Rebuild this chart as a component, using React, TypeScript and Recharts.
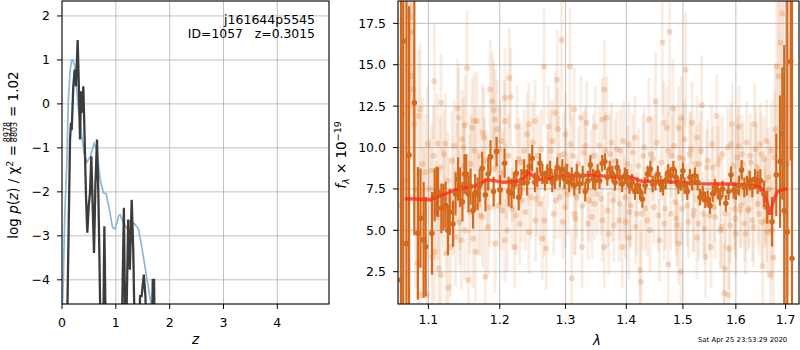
import React from "react";
import {
  LineChart,
  ComposedChart,
  Line,
  Scatter,
  ErrorBar,
  XAxis,
  YAxis,
  CartesianGrid,
} from "recharts";

// p(z) panel
const smoothZ = [0, 0.01, 0.025, 0.05, 0.087, 0.118, 0.15, 0.18, 0.2, 0.24, 0.27, 0.3, 0.35, 0.41, 0.46, 0.53, 0.595, 0.645, 0.71, 0.77, 0.82, 0.88, 0.94, 0.99, 1.05, 1.08, 1.14, 1.2, 1.26, 1.34, 1.42, 1.48, 1.54, 1.6, 1.65, 1.75];
const smoothLogP = [-5, -4.52, -3.98, -2.6, -1.42, 0.1, 0.75, 1.0, 1.0, 0.85, 0.4, -0.05, -0.58, -1.11, -1.33, -1.19, -0.9, -1.04, -1.72, -2.02, -2.04, -2.4, -2.82, -2.84, -2.55, -2.52, -2.7, -2.82, -2.67, -2.72, -2.84, -3.24, -3.69, -4.15, -4.52, -5.3];

const chiZ = [0, 0.09, 0.149, 0.167, 0.18, 0.21, 0.236, 0.26, 0.291, 0.31, 0.335, 0.353, 0.372, 0.396, 0.415, 0.446, 0.47, 0.496, 0.52, 0.545, 0.57, 0.595, 0.62, 0.65, 0.675, 0.694, 0.72, 0.76, 0.787, 0.82, 1.1, 1.15, 1.18, 1.23, 1.26, 1.295, 1.325, 1.36, 1.43, 1.45, 1.48, 1.52, 1.55, 1.58, 1.66, 1.686, 1.71, 1.73, 2.0, 4.96];
const chiLogP = [-9, -5.5, -0.81, -0.43, -0.6, 0.4, 0.78, 0.4, 1.45, 0.55, -0.81, 0.29, -0.2, 0.4, -0.51, -2.1, -2.93, -2.33, -2.02, -1.19, -2.33, -3.39, -1.87, -0.81, -2.02, -3.39, -5.5, -6, -2.78, -6, -6, -2.36, -6, -2.63, -3.77, -2.18, -3.39, -6, -6, -4.37, -4.37, -3.88, -4.37, -6, -6, -4.0, -4.0, -6, -9, -9];

const zTicks = [0, 1, 2, 3, 4];
const logPTicks = [-4, -3, -2, -1, 0, 1, 2];

// spectrum panel: binned points
const binWave = [1.064, 1.0668, 1.071, 1.0744, 1.0813, 1.086, 1.0894, 1.0936, 1.0964, 1.1048, 1.1084, 1.111, 1.113, 1.1175, 1.1203, 1.1233, 1.1265, 1.129, 1.1335, 1.137, 1.1405, 1.1433, 1.1466, 1.1494, 1.152, 1.155, 1.158, 1.1615, 1.1645, 1.168, 1.171, 1.1746, 1.1792, 1.1832, 1.1864, 1.191, 1.1953, 1.2005, 1.207, 1.2131, 1.2172, 1.2207, 1.2243, 1.228, 1.232, 1.2361, 1.2407, 1.2442, 1.2483, 1.2524, 1.256, 1.2602, 1.264, 1.268, 1.2715, 1.2757, 1.2793, 1.2835, 1.287, 1.2912, 1.295, 1.2985, 1.302, 1.306, 1.31, 1.314, 1.318, 1.3225, 1.3275, 1.3317, 1.336, 1.34, 1.3445, 1.348, 1.352, 1.355, 1.3595, 1.364, 1.368, 1.372, 1.3765, 1.3808, 1.3846, 1.3886, 1.393, 1.3975, 1.4014, 1.4054, 1.41, 1.4148, 1.4189, 1.4237, 1.4278, 1.4326, 1.4368, 1.4417, 1.4458, 1.4507, 1.455, 1.4598, 1.464, 1.469, 1.4734, 1.4777, 1.4826, 1.4875, 1.4918, 1.4967, 1.5, 1.503, 1.508, 1.513, 1.517, 1.522, 1.5272, 1.5315, 1.5366, 1.5415, 1.546, 1.5504, 1.5555, 1.5598, 1.5649, 1.5692, 1.5743, 1.5806, 1.5857, 1.5906, 1.5957, 1.6001, 1.606, 1.6113, 1.6167, 1.6218, 1.6272, 1.6325, 1.6377, 1.643, 1.6484, 1.6556, 1.6623, 1.6722, 1.6808, 1.6887, 1.6933, 1.6972, 1.7035, 1.7106, 1.7133];
const binFlux = [2.0, 16.43, 4.2, 9.55, 12.7, 4.82, 5.73, 4.42, 4.01, 4.82, 7.14, 7.34, 7.3, 6.33, 6.4, 6.53, 5.0, 6.1, 5.4, 7.2, 8.1, 7.6, 6.73, 8.4, 8.4, 7.2, 7.64, 6.2, 7.3, 7.2, 7.7, 8.75, 7.14, 8.4, 9.45, 7.34, 9.75, 7.44, 9.05, 7.34, 7.24, 7.7, 8.45, 7.0, 7.9, 8.5, 7.9, 8.84, 9.35, 7.9, 8.2, 9.05, 8.4, 8.0, 8.4, 8.6, 7.9, 8.1, 8.8, 8.2, 8.7, 8.1, 8.4, 7.9, 8.2, 7.7, 8.4, 7.8, 8.3, 7.34, 8.0, 8.95, 8.1, 8.0, 8.5, 8.0, 9.05, 9.15, 8.2, 8.7, 8.4, 7.9, 8.8, 8.2, 7.8, 8.3, 8.2, 7.7, 7.9, 7.34, 7.7, 7.34, 6.87, 7.7, 8.4, 8.7, 7.8, 7.9, 8.4, 7.8, 7.6, 8.0, 8.5, 8.3, 8.7, 8.2, 7.7, 7.9, 8.6, 7.7, 7.34, 8.2, 7.9, 8.3, 7.9, 7.0, 7.2, 6.84, 6.9, 6.5, 7.2, 7.6, 7.4, 7.0, 7.5, 6.63, 7.34, 8.35, 7.4, 7.34, 7.7, 8.65, 7.6, 7.7, 8.0, 7.6, 8.1, 7.9, 8.0, 7.2, 6.4, 5.52, 8.35, 9.15, 10.85, 6.2, 4.9, 15.2, 3.3];
const binErr = [20, 20, 20, 9, 8, 4, 3, 3.5, 3, 2.5, 1.6, 1.5, 1.5, 1.5, 1.4, 1.4, 1.5, 1.4, 1.4, 1.3, 1.3, 1.2, 1.2, 1.2, 1.2, 1.1, 1.1, 1.1, 1.1, 1.0, 1.0, 1.0, 1.0, 1.0, 1.0, 0.9, 0.9, 0.9, 0.9, 0.9, 0.9, 0.8, 0.8, 0.8, 0.8, 0.8, 0.8, 0.8, 0.8, 0.6, 0.6, 0.6, 0.6, 0.6, 0.6, 0.6, 0.6, 0.6, 0.6, 0.6, 0.6, 0.6, 0.6, 0.6, 0.6, 0.6, 0.6, 0.6, 0.6, 0.6, 0.6, 0.6, 0.6, 0.6, 0.5, 0.5, 0.5, 0.5, 0.5, 0.5, 0.5, 0.5, 0.5, 0.5, 0.5, 0.5, 0.5, 0.5, 0.5, 0.5, 0.5, 0.5, 0.5, 0.5, 0.5, 0.5, 0.5, 0.5, 0.5, 0.5, 0.5, 0.5, 0.5, 0.5, 0.5, 0.5, 0.5, 0.5, 0.5, 0.5, 0.5, 0.5, 0.5, 0.5, 0.5, 0.5, 0.5, 0.5, 0.5, 0.5, 0.5, 0.5, 0.5, 0.5, 0.5, 0.5, 0.5, 0.5, 0.5, 0.5, 0.6, 0.6, 0.6, 0.6, 0.6, 0.6, 0.6, 0.7, 0.7, 0.8, 1.0, 1.5, 2.5, 4, 4, 10, 20, 6, 20];

// spectrum panel: unbinned points (outliers and edges)
const rawWave = [1.062, 1.066, 1.07, 1.073, 1.0755, 1.077, 1.078, 1.08, 1.081, 1.083, 1.086, 1.087, 1.089, 1.09, 1.092, 1.094, 1.096, 1.098, 1.099, 1.102, 1.105, 1.107, 1.108, 1.108, 1.11, 1.112, 1.114, 1.116, 1.117, 1.117, 1.12, 1.123, 1.124, 1.126, 1.127, 1.13, 1.132, 1.134, 1.137, 1.139, 1.14, 1.141, 1.143, 1.145, 1.146, 1.148, 1.15, 1.15, 1.153, 1.155, 1.156, 1.158, 1.16, 1.1615, 1.163, 1.165, 1.167, 1.169, 1.171, 1.175, 1.175, 1.177, 1.179, 1.181, 1.183, 1.186, 1.189, 1.191, 1.193, 1.193, 1.196, 1.198, 1.202, 1.205, 1.2075, 1.2075, 1.2075, 1.211, 1.214, 1.216, 1.218, 1.222, 1.2255, 1.228, 1.2295, 1.233, 1.236, 1.2405, 1.2435, 1.2435, 1.247, 1.2524, 1.2535, 1.257, 1.26, 1.264, 1.2664, 1.27, 1.2735, 1.277, 1.2815, 1.284, 1.287, 1.288, 1.291, 1.294, 1.297, 1.3, 1.3, 1.304, 1.307, 1.31, 1.312, 1.314, 1.314, 1.318, 1.3245, 1.3265, 1.33, 1.334, 1.338, 1.3425, 1.345, 1.348, 1.352, 1.3595, 1.36, 1.363, 1.363, 1.367, 1.3703, 1.373, 1.377, 1.381, 1.3876, 1.39, 1.393, 1.397, 1.4043, 1.4043, 1.408, 1.4148, 1.418, 1.4237, 1.425, 1.429, 1.433, 1.439, 1.441, 1.446, 1.4507, 1.4577, 1.463, 1.4653, 1.468, 1.471, 1.4734, 1.476, 1.479, 1.482, 1.486, 1.4891, 1.4918, 1.4918, 1.4967, 1.4967, 1.5, 1.505, 1.508, 1.512, 1.517, 1.52, 1.526, 1.526, 1.53, 1.535, 1.538, 1.542, 1.546, 1.552, 1.556, 1.56, 1.563, 1.568, 1.572, 1.5775, 1.578, 1.5857, 1.587, 1.59, 1.593, 1.597, 1.6, 1.603, 1.606, 1.61, 1.614, 1.619, 1.624, 1.628, 1.633, 1.637, 1.641, 1.646, 1.65, 1.653, 1.657, 1.661, 1.661, 1.665, 1.669, 1.672, 1.675, 1.677, 1.679, 1.682, 1.686, 1.689, 1.693, 1.696, 1.7, 1.705];
const rawFlux = [6.5, 12.0, 8.0, 18.2, 17.9, 16.96, 14.3, 13.5, 11.4, 7.5, 3.0, 11.9, 12.3, 1.1, 9.0, 6.0, 8.5, 1.1, 10.2, 7.5, 3.4, 9.5, 14.0, 3.7, 6.2, 10.25, 2.7, 8.8, 12.7, 2.3, 7.0, 10.25, 3.6, 8.0, 1.55, 4.0, 9.2, 6.5, 4.6, 8.5, 12.35, 11.8, 6.8, 4.4, 10.5, 10.0, 11.35, 5.0, 14.8, 2.0, 7.8, 9.0, 11.2, 4.5, 11.6, 3.7, 11.6, 6.5, 9.5, 10.9, 5.8, 10.6, 2.2, 8.0, 5.2, 13.5, 12.8, 12.25, 11.7, 4.2, 11.1, 6.5, 10.4, 8.5, 13.0, 11.6, 4.4, 5.0, 14.2, 13.05, 6.3, 4.0, 11.25, 9.3, 5.4, 6.8, 9.8, 10.8, 11.4, 4.9, 7.0, 11.6, 5.6, 9.5, 6.6, 4.5, 14.9, 3.9, 11.25, 9.8, 6.0, 12.1, 14.1, 11.1, 7.0, 16.5, 9.6, 10.8, 6.4, 7.2, 14.9, 2.1, 9.5, 12.3, 6.0, 7.0, 11.8, 4.0, 9.7, 11.5, 6.8, 5.8, 9.5, 11.25, 7.2, 5.6, 11.7, 13.5, 4.0, 11.8, 4.8, 9.6, 6.8, 9.2, 5.6, 9.8, 4.0, 7.0, 10.2, 4.55, 6.5, 10.6, 6.0, 2.6, 1.9, 9.5, 6.3, 11.7, 5.0, 9.3, 12.8, 4.4, 16.35, 11.5, 6.3, 11.2, 2.95, 17.0, 9.5, 12.35, 6.7, 5.3, 11.2, 4.2, 11.8, 2.5, 9.3, 14.7, 6.5, 9.6, 11.5, 6.2, 10.6, 4.55, 9.0, 12.55, 6.0, 3.4, 9.2, 4.0, 8.8, 5.8, 11.9, 9.3, 5.2, 1.2, 2.7, 1.1, 3.9, 10.2, 11.4, 6.3, 4.8, 9.4, 11.25, 6.5, 9.0, 4.8, 6.2, 9.5, 5.6, 11.4, 8.8, 6.0, 9.6, 2.85, 6.4, 10.4, 5.6, 8.2, 2.3, 5.0, 3.35, 9.4, 11.1, 14.9, 14.3, 16.35, 18.1, 12.0, 6.0, 9.0];
const rawErr = [9, 8, 9, 6, 5, 5, 5, 5, 5, 6, 4, 4, 4, 4, 4, 4, 3.5, 3.5, 3.5, 3, 3, 3, 3.5, 3, 3, 3, 3, 3, 3, 3, 3, 3, 3, 3, 3, 3, 3, 3, 3, 3, 3, 3, 3, 3, 3, 3, 3, 3, 3.5, 3, 3, 3, 3, 3, 3, 3, 3, 3, 3, 3, 3, 3, 3, 3, 3, 3, 3, 3, 3, 3, 3, 2.5, 2.5, 2.5, 3, 2.5, 2.5, 2.5, 3, 3, 2.5, 2.5, 2.5, 2.5, 2.5, 2.5, 2.5, 2.5, 2.5, 2.5, 2.5, 2.5, 2.5, 2.5, 2.5, 2.5, 3.5, 2.5, 2.5, 2.5, 2.5, 2.5, 3, 2.5, 2.5, 4, 2.5, 2.5, 2.5, 2.5, 3.5, 3, 2.5, 2.5, 2.5, 2.5, 2.5, 2.5, 2.5, 2.5, 2.5, 2.5, 2.5, 2.5, 2.5, 2.5, 2.5, 3, 2.5, 2.5, 2.5, 2.5, 2.5, 2.5, 2.5, 2.5, 2.5, 2.5, 2.5, 2.5, 2.5, 2.5, 2.5, 3, 3, 2.5, 2.5, 2.5, 2.5, 2.5, 3, 2.5, 4.5, 2.5, 2.5, 2.5, 3, 5, 2.5, 3, 2.5, 2.5, 2.5, 2.5, 2.5, 3, 2.5, 3.5, 2.5, 2.5, 2.5, 2.5, 2.5, 2.5, 2.5, 3, 2.5, 2.5, 2.5, 2.5, 2.5, 2.5, 2.5, 2.5, 2.5, 3, 3, 3, 2.5, 2.5, 2.5, 2.5, 2.5, 2.5, 2.5, 2.5, 2.5, 2.5, 2.5, 2.5, 2.5, 2.5, 2.5, 2.5, 2.5, 3, 2.5, 2.5, 2.5, 3, 3, 3, 3, 4, 4, 5, 5, 6, 6, 7, 7, 8];

// spectrum panel: unbinned points (the dense cloud round the continuum)
const cloudWave = [1.104, 1.113, 1.121, 1.128, 1.135, 1.142, 1.149, 1.157, 1.164, 1.172, 1.178, 1.185, 1.192, 1.199, 1.203, 1.209, 1.213, 1.219, 1.224, 1.231, 1.238, 1.242, 1.249, 1.255, 1.262, 1.267, 1.272, 1.279, 1.285, 1.29, 1.296, 1.302, 1.308, 1.316, 1.321, 1.327, 1.332, 1.336, 1.341, 1.347, 1.355, 1.358, 1.365, 1.369, 1.375, 1.379, 1.384, 1.389, 1.395, 1.399, 1.402, 1.406, 1.411, 1.416, 1.421, 1.427, 1.431, 1.436, 1.443, 1.448, 1.453, 1.456, 1.461, 1.466, 1.474, 1.478, 1.484, 1.488, 1.494, 1.498, 1.503, 1.51, 1.515, 1.519, 1.523, 1.529, 1.533, 1.54, 1.544, 1.549, 1.554, 1.558, 1.565, 1.57, 1.574, 1.58, 1.584, 1.589, 1.595, 1.599, 1.605, 1.608, 1.612, 1.617, 1.621, 1.626, 1.63, 1.635, 1.639, 1.644, 1.648, 1.652, 1.656, 1.659, 1.663, 1.667, 1.671];
const cloudFlux = [8.6, 5.8, 9.6, 6.9, 10.1, 5.5, 8.9, 6.1, 9.8, 5.9, 9.2, 6.4, 8.7, 9.9, 6.2, 8.0, 9.5, 7.8, 5.9, 9.1, 6.1, 8.9, 10.3, 6.9, 9.9, 5.6, 8.7, 10.4, 6.8, 9.5, 5.5, 8.9, 10.2, 5.7, 9.0, 6.5, 10.1, 5.4, 8.8, 6.6, 10.1, 6.9, 9.8, 6.2, 10.3, 5.3, 9.9, 6.6, 10.4, 5.5, 9.0, 6.1, 9.7, 5.2, 8.9, 6.0, 10.0, 5.6, 9.6, 6.4, 10.3, 5.9, 9.1, 5.4, 9.8, 6.0, 10.1, 5.7, 9.4, 6.3, 10.5, 5.5, 9.9, 5.9, 9.0, 5.4, 9.8, 5.1, 8.8, 5.9, 10.2, 6.4, 9.0, 5.0, 9.6, 6.0, 10.0, 5.3, 8.9, 5.7, 10.1, 6.2, 9.6, 5.4, 10.3, 6.3, 9.1, 5.2, 9.9, 6.6, 10.2, 5.5, 9.3, 6.8, 4.9, 7.5, 9.8];
const cloudErr = [2.8, 2.6, 2.7, 2.5, 2.8, 2.6, 2.6, 2.5, 2.7, 2.5, 2.6, 2.4, 2.5, 2.6, 2.4, 2.3, 2.5, 2.3, 2.4, 2.4, 2.3, 2.4, 2.5, 2.3, 2.4, 2.2, 2.3, 2.5, 2.3, 2.4, 2.2, 2.3, 2.4, 2.2, 2.3, 2.2, 2.4, 2.2, 2.3, 2.2, 2.4, 2.2, 2.3, 2.2, 2.4, 2.2, 2.3, 2.2, 2.4, 2.2, 2.3, 2.2, 2.3, 2.2, 2.3, 2.2, 2.4, 2.2, 2.3, 2.2, 2.4, 2.2, 2.3, 2.2, 2.3, 2.2, 2.4, 2.2, 2.3, 2.2, 2.4, 2.2, 2.3, 2.2, 2.3, 2.2, 2.4, 2.2, 2.3, 2.2, 2.4, 2.2, 2.3, 2.3, 2.4, 2.2, 2.4, 2.3, 2.3, 2.3, 2.4, 2.3, 2.4, 2.3, 2.5, 2.3, 2.4, 2.4, 2.5, 2.4, 2.5, 2.5, 2.6, 2.6, 2.7, 2.8, 3.0];

// best-fit template
const modelWave = [1.0688, 1.0837, 1.1024, 1.1164, 1.1398, 1.1584, 1.1701, 1.1808, 1.1911, 1.2055, 1.2259, 1.236, 1.2421, 1.2473, 1.2564, 1.2717, 1.297, 1.3231, 1.3504, 1.3782, 1.4059, 1.427, 1.4539, 1.4958, 1.5272, 1.5585, 1.59, 1.6226, 1.6456, 1.6556, 1.6623, 1.6675, 1.6742, 1.6823, 1.6921, 1.7032];
const modelFlux = [6.91, 6.89, 6.85, 7.09, 7.49, 7.62, 7.76, 8.06, 8.0, 7.9, 7.96, 8.16, 8.5, 8.36, 8.06, 8.1, 8.3, 8.32, 8.32, 8.22, 8.22, 7.96, 7.94, 7.9, 7.82, 7.8, 7.8, 7.74, 7.66, 7.36, 6.66, 5.95, 6.66, 7.3, 7.46, 7.5];

const waveTicks = [1.1, 1.2, 1.3, 1.4, 1.5, 1.6, 1.7];
const fluxTicks = [2.5, 5, 7.5, 10, 12.5, 15, 17.5];

const smoothData = smoothZ.map((z, i) => ({ z, logp: smoothLogP[i] }));
const chiData = chiZ.map((z, i) => ({ z, logp: chiLogP[i] }));
const binData = binWave.map((wave, i) => ({ wave, flux: binFlux[i], err: binErr[i] }));
const rawData = [
  ...rawWave.map((wave, i) => ({ wave, flux: rawFlux[i], err: rawErr[i] })),
  ...cloudWave.map((wave, i) => ({ wave, flux: cloudFlux[i], err: cloudErr[i] })),
];
const modelData = modelWave.map((wave, i) => ({ wave, flux: modelFlux[i] }));

const FONT = "DejaVu Sans";
const ORANGE = "#d4691c";
const tickStyle = { fill: "#000", fontSize: 12.5, fontFamily: FONT };
const gridColor = "#b0b0b0";
const specMargin = { top: 1, right: 1, bottom: 16, left: 28 };

const minus = (v: number) => (v < 0 ? "\u2212" + Math.abs(v) : String(v));

// the spectrum axes are drawn twice: once with ticks + grid, once (clipped) with the data
function SpecAxes({ bare }: { bare?: boolean }) {
  return (
    <>
      <XAxis
        dataKey="wave"
        type="number"
        scale="log"
        domain={[1.06, 1.728]}
        ticks={waveTicks}
        interval={0}
        allowDataOverflow
        height={30}
        tick={bare ? false : tickStyle}
        tickSize={5}
        tickMargin={6}
        tickFormatter={(v: number) => v.toFixed(1)}
        axisLine={false}
        tickLine={bare ? false : { stroke: "#000" }}
      />
      <YAxis
        dataKey="flux"
        type="number"
        domain={[0.55, 18.85]}
        ticks={fluxTicks}
        interval={0}
        allowDataOverflow
        width={40}
        tick={bare ? false : tickStyle}
        tickSize={5}
        tickMargin={7}
        tickFormatter={(v: number) => v.toFixed(1)}
        axisLine={false}
        tickLine={bare ? false : { stroke: "#000" }}
      />
    </>
  );
}

export default function App() {
  return (
    <div style={{ position: "absolute", left: 0, top: 0, width: 800, height: 350, background: "#fff", fontFamily: FONT }}>
      <div style={{ position: "absolute", left: 0, top: 0 }}>
        <LineChart width={340} height={350} margin={{ top: 1, right: 11, bottom: 16, left: 22 }}>
          <CartesianGrid stroke={gridColor} strokeWidth={0.8} />
          <XAxis
            dataKey="z"
            type="number"
            domain={[0, 4.96]}
            ticks={zTicks}
            allowDataOverflow
            height={30}
            tick={tickStyle}
            tickSize={5}
            tickMargin={9}
            axisLine={false}
            tickLine={{ stroke: "#000" }}
          />
          <YAxis
            type="number"
            domain={[-4.55, 2.34]}
            ticks={logPTicks}
            allowDataOverflow
            width={40}
            tick={tickStyle}
            tickSize={5}
            tickMargin={7}
            tickFormatter={minus}
            axisLine={false}
            tickLine={{ stroke: "#000" }}
          />
          <Line data={smoothData} dataKey="logp" stroke="#8ab8da" strokeWidth={1.7} dot={false} isAnimationActive={false} />
          <Line data={chiData} dataKey="logp" stroke="#3c3c3c" strokeWidth={2.3} dot={false} isAnimationActive={false} />
        </LineChart>
      </div>
      <div style={{ position: "absolute", left: 330, top: 0 }}>
        <ComposedChart width={470} height={350} margin={specMargin} data={modelData}>
          <CartesianGrid stroke={gridColor} strokeWidth={0.8} />
          {SpecAxes({})}
        </ComposedChart>
      </div>
      <div style={{ position: "absolute", left: 330, top: 0, clipPath: "inset(1px 1px 46px 68px)" }}>
        <ComposedChart width={470} height={350} margin={specMargin}>
          {SpecAxes({ bare: true })}
          <Scatter
            data={rawData}
            isAnimationActive={false}
            shape={(p: any) => <circle cx={p.cx} cy={p.cy} r={3} fill="rgba(216,105,26,0.24)" />}
          >
            <ErrorBar dataKey="err" direction="y" width={0} stroke="rgba(216,105,26,0.12)" strokeWidth={3} />
          </Scatter>
          <Scatter
            data={binData}
            isAnimationActive={false}
            shape={(p: any) => <circle cx={p.cx} cy={p.cy} r={2.8} fill={ORANGE} />}
          >
            <ErrorBar dataKey="err" direction="y" width={0} stroke={ORANGE} strokeWidth={2.2} />
          </Scatter>
          <Line
            data={modelData}
            dataKey="flux"
            stroke="#ff2a18"
            strokeOpacity={0.8}
            strokeWidth={3.4}
            dot={false}
            isAnimationActive={false}
          />
        </ComposedChart>
      </div>
      <svg width={800} height={350} style={{ position: "absolute", left: 0, top: 0, pointerEvents: "none" }} fontFamily={FONT}>
        <rect x={62} y={1} width={267} height={303} fill="none" stroke="#000" strokeWidth={1} />
        <rect x={398} y={1} width={401} height={303} fill="none" stroke="#000" strokeWidth={1} />
        <text x={315} y={23.5} textAnchor="end" fontSize={12.5}>j161644p5545</text>
        <text x={315} y={37.5} textAnchor="end" fontSize={12.4} style={{ whiteSpace: "pre" }}>ID=1057   z=0.3015</text>
        <g transform="translate(18,157) rotate(-90)">
          <text x={12} y={0} textAnchor="end" fontSize={13.5}>
            log <tspan fontStyle="italic">p</tspan>(<tspan fontStyle="italic">z</tspan>) / χ<tspan dy={-5} fontSize={9.5}>2</tspan>
            <tspan dy={5}> =</tspan>
          </text>
          <text x={25} y={-8.3} textAnchor="middle" fontSize={8}>8978</text>
          <line x1={15} x2={35} y1={-7.2} y2={-7.2} stroke="#000" strokeWidth={0.7} />
          <text x={25} y={-1} textAnchor="middle" fontSize={8}>8803</text>
          <text x={40} y={0} fontSize={13.5}>= 1.02</text>
        </g>
        <g transform="translate(346,155) rotate(-90)">
          <text x={0} y={0} textAnchor="middle" fontSize={13.5}>
            <tspan fontStyle="italic">f</tspan>
            <tspan dy={3} fontSize={9.5} fontStyle="italic">λ</tspan>
            <tspan dy={-3}> × 10</tspan>
            <tspan dy={-5.5} fontSize={9.5}>−19</tspan>
          </text>
        </g>
        <text x={195.5} y={344} textAnchor="middle" fontSize={13.5} fontStyle="italic">z</text>
        <text x={597} y={345} textAnchor="middle" fontSize={13.5} fontStyle="italic">λ</text>
        <text x={698} y={342} fontSize={6.9}>Sat Apr 25 23:53:29 2020</text>
      </svg>
    </div>
  );
}
